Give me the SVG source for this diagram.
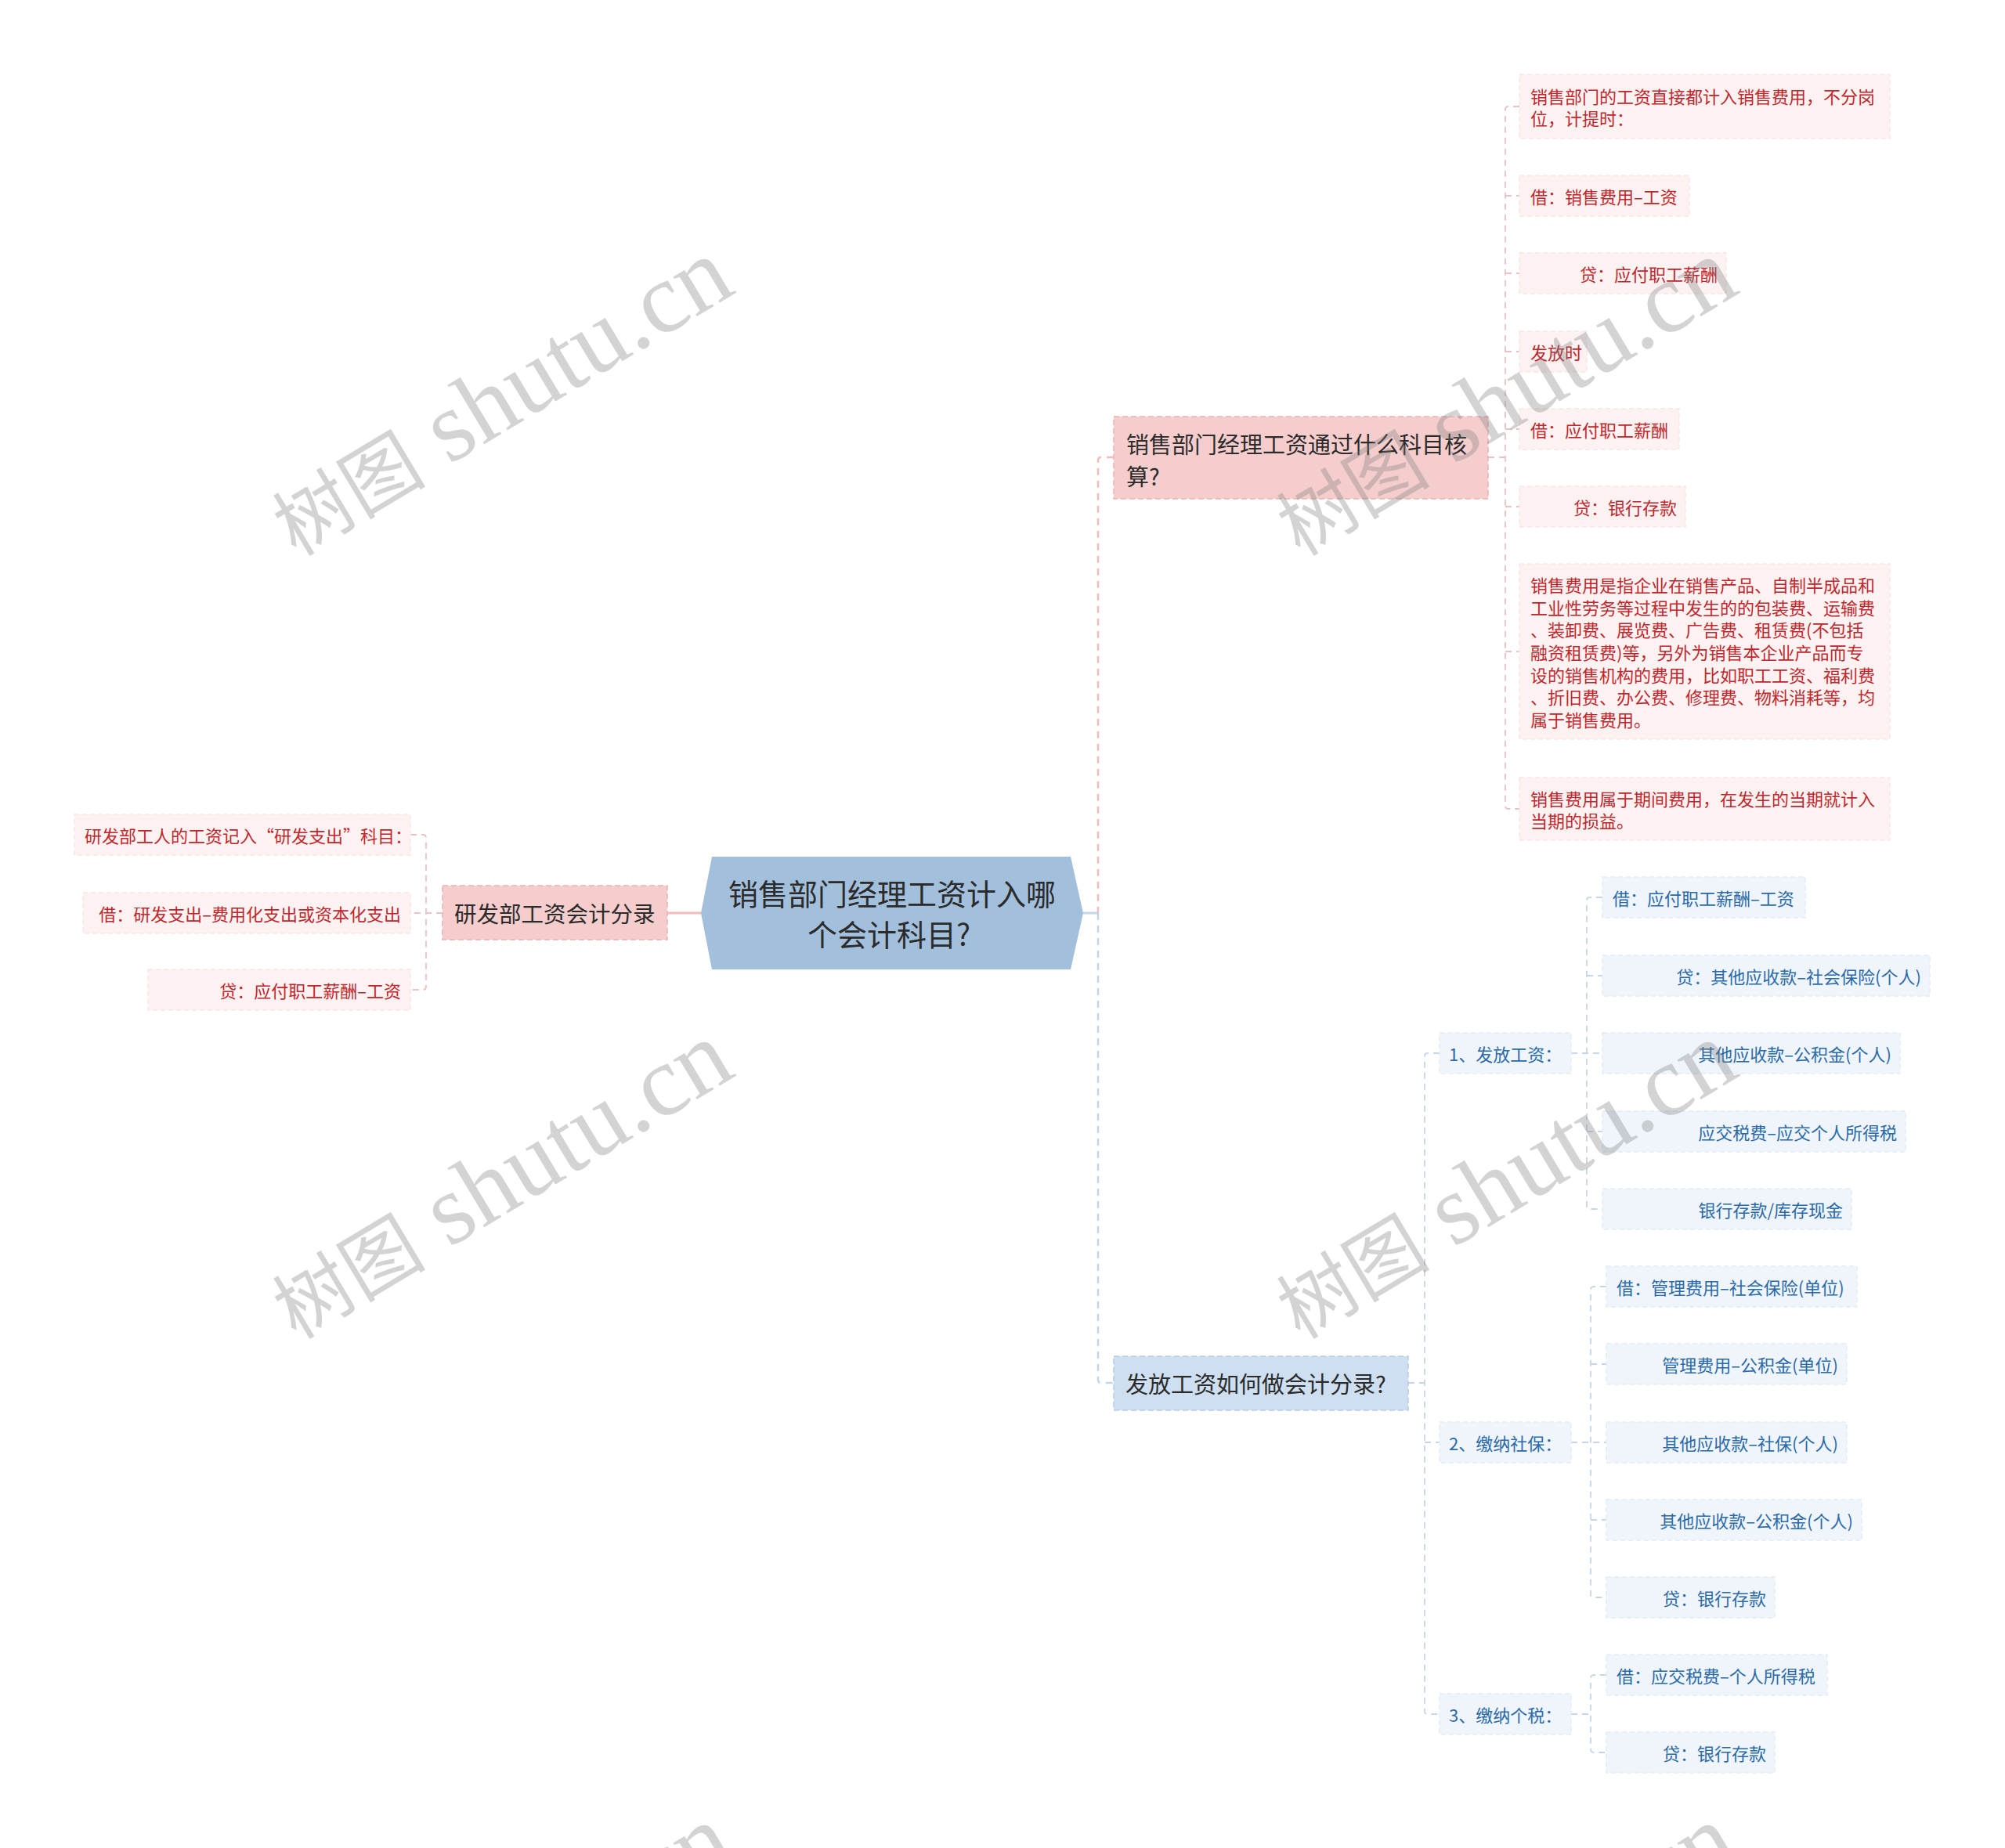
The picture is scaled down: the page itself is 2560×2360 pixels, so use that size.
<svg xmlns="http://www.w3.org/2000/svg" width="2560" height="2360" viewBox="0 0 2560 2360">
<style>
text{font-family:"Noto Sans CJK SC","Noto Sans",sans-serif;dominant-baseline:central}
.rleaf{fill:#fdf2f2;stroke:#f9e6e6;stroke-width:1.5;stroke-dasharray:6 4}
.bleaf{fill:#eff5fb;stroke:#e3ecf6;stroke-width:1.5;stroke-dasharray:6 4}
.rt{fill:#c0272d;font-size:22px}
.bt{fill:#2b6aa8;font-size:22px}
.pinkn{fill:#f5cdcd;stroke:#e9b2b2;stroke-width:1.5;stroke-dasharray:7 4}
.bluen{fill:#cddff0;stroke:#b5cbe2;stroke-width:1.5;stroke-dasharray:7 4}
.l1t{fill:#2b2b2b;font-size:29px}
.rc{fill:none;stroke:#e9c3c3;stroke-width:1.8;stroke-dasharray:8 6}
.bc{fill:none;stroke:#c6d6e6;stroke-width:1.8;stroke-dasharray:8 6}
.trunkr{fill:none;stroke:#f2bcbc;stroke-width:2.5;stroke-dasharray:9 7}
.trunkb{fill:none;stroke:#c3d5e8;stroke-width:2.5;stroke-dasharray:9 7}
.wm{font-family:"Liberation Serif","Noto Sans CJK SC",serif;fill:#7a7a7a;opacity:0.32;dominant-baseline:alphabetic}
.wc{font-size:98px}
.wl{font-size:128px}
</style>

<g id="connectors">
  <line x1="852" y1="1166" x2="895" y2="1166" stroke="#f2bcbc" stroke-width="3"/>
  <line x1="1383" y1="1166" x2="1402" y2="1166" stroke="#c4d5e7" stroke-width="3"/>
  <path class="trunkr" d="M1422,584 H1406 Q1402,584 1402,588 V1166"/>
  <path class="trunkb" d="M1402,1166 V1762 Q1402,1766 1406,1766 H1422"/>
  <path class="rc" d="M565,1166 H524"/>
  <path class="rc" d="M524,1066 H540 Q544,1066 544,1070 V1260 Q544,1264 540,1264 H524"/>
  <path class="rc" d="M1900,584 H1922"/>
  <path class="rc" d="M1940,136 H1926 Q1922,136 1922,140 V1029 Q1922,1033 1926,1033 H1940"/>
  <path class="rc" d="M1922,250 H1940 M1922,349 H1940 M1922,449 H1940 M1922,548 H1940 M1922,647 H1940 M1922,832 H1940"/>
  <path class="bc" d="M1798,1766 H1819"/>
  <path class="bc" d="M1838,1345 H1823 Q1819,1345 1819,1349 V2185 Q1819,2189 1823,2189 H1838"/>
  <path class="bc" d="M1819,1842 H1838"/>
  <path class="bc" d="M2006,1345 H2046"/>
  <path class="bc" d="M2046,1146 H2030 Q2026,1146 2026,1150 V1540 Q2026,1544 2030,1544 H2046"/>
  <path class="bc" d="M2026,1246 H2046 M2026,1445 H2046"/>
  <path class="bc" d="M2006,1842 H2051"/>
  <path class="bc" d="M2051,1643 H2035 Q2031,1643 2031,1647 V2036 Q2031,2040 2035,2040 H2051"/>
  <path class="bc" d="M2031,1742 H2051 M2031,1941 H2051"/>
  <path class="bc" d="M2006,2189 H2031"/>
  <path class="bc" d="M2051,2139 H2035 Q2031,2139 2031,2143 V2234 Q2031,2238 2035,2238 H2051"/>
</g>

<g id="central">
  <polygon points="909,1094 1367,1094 1383,1166 1367,1238 909,1238 895,1166" fill="#a2bfdc"/>
  <text x="1139" y="1139" text-anchor="middle" font-size="38" fill="#2b2b2b">销售部门经理工资计入哪</text>
  <text x="1135" y="1191" text-anchor="middle" font-size="38" fill="#2b2b2b">个会计科目?</text>
</g>

<g id="n-yanfa">
  <rect class="pinkn" x="565" y="1131" width="287" height="69"/>
  <text x="580" y="1165" font-size="28.5" fill="#2b2b2b">研发部工资会计分录</text>
</g>
<g id="l-yanfa-1">
  <rect class="rleaf" x="95" y="1040" width="429" height="52"/>
  <text class="rt" x="108" y="1066">研发部工人的工资记入“研发支出”科目：</text>
</g>
<g id="l-yanfa-2">
  <rect class="rleaf" x="106" y="1140" width="418" height="52"/>
  <text class="rt" x="512" y="1166" text-anchor="end">借：研发支出–费用化支出或资本化支出</text>
</g>
<g id="l-yanfa-3">
  <rect class="rleaf" x="189" y="1238" width="335" height="52"/>
  <text class="rt" x="512" y="1264" text-anchor="end">贷：应付职工薪酬–工资</text>
</g>

<g id="n-xiaoshou">
  <rect class="pinkn" x="1422" y="532" width="478" height="105"/>
  <text class="l1t" x="1438" y="566">销售部门经理工资通过什么科目核</text>
  <text class="l1t" x="1438" y="607">算?</text>
</g>
<g id="r1">
  <rect class="rleaf" x="1940" y="95" width="473" height="82"/>
  <text class="rt" x="1954" y="122">销售部门的工资直接都计入销售费用，不分岗</text>
  <text class="rt" x="1954" y="150">位，计提时：</text>
</g>
<g id="r2">
  <rect class="rleaf" x="1940" y="224" width="217" height="52"/>
  <text class="rt" x="1954" y="250">借：销售费用–工资</text>
</g>
<g id="r3">
  <rect class="rleaf" x="1940" y="323" width="264" height="52"/>
  <text class="rt" x="2193" y="349" text-anchor="end">贷：应付职工薪酬</text>
</g>
<g id="r4">
  <rect class="rleaf" x="1940" y="423" width="86" height="52"/>
  <text class="rt" x="1954" y="449">发放时</text>
</g>
<g id="r5">
  <rect class="rleaf" x="1940" y="522" width="204" height="52"/>
  <text class="rt" x="1954" y="548">借：应付职工薪酬</text>
</g>
<g id="r6">
  <rect class="rleaf" x="1940" y="621" width="212" height="52"/>
  <text class="rt" x="2141" y="647" text-anchor="end">贷：银行存款</text>
</g>
<g id="r7">
  <rect class="rleaf" x="1940" y="720" width="473" height="224"/>
  <text class="rt" x="1954" y="746">销售费用是指企业在销售产品、自制半成品和</text>
  <text class="rt" x="1954" y="774.7">工业性劳务等过程中发生的的包装费、运输费</text>
  <text class="rt" x="1954" y="803.4">、装卸费、展览费、广告费、租赁费(不包括</text>
  <text class="rt" x="1954" y="832">融资租赁费)等，另外为销售本企业产品而专</text>
  <text class="rt" x="1954" y="860.7">设的销售机构的费用，比如职工工资、福利费</text>
  <text class="rt" x="1954" y="889.4">、折旧费、办公费、修理费、物料消耗等，均</text>
  <text class="rt" x="1954" y="918">属于销售费用。</text>
</g>
<g id="r8">
  <rect class="rleaf" x="1940" y="993" width="473" height="80"/>
  <text class="rt" x="1954" y="1019">销售费用属于期间费用，在发生的当期就计入</text>
  <text class="rt" x="1954" y="1047">当期的损益。</text>
</g>

<g id="n-fafang">
  <rect class="bluen" x="1422" y="1732" width="376" height="69"/>
  <text class="l1t" x="1437" y="1766">发放工资如何做会计分录?</text>
</g>
<g id="b-1">
  <rect class="bleaf" x="1838" y="1319" width="168" height="52"/>
  <text class="bt" x="1850" y="1345">1、发放工资：</text>
</g>
<g id="b-2">
  <rect class="bleaf" x="1838" y="1816" width="168" height="52"/>
  <text class="bt" x="1850" y="1842">2、缴纳社保：</text>
</g>
<g id="b-3">
  <rect class="bleaf" x="1838" y="2163" width="168" height="52"/>
  <text class="bt" x="1850" y="2189">3、缴纳个税：</text>
</g>

<g id="b-1a">
  <rect class="bleaf" x="2046" y="1120" width="259" height="52"/>
  <text class="bt" x="2059" y="1146">借：应付职工薪酬–工资</text>
</g>
<g id="b-1b">
  <rect class="bleaf" x="2046" y="1220" width="418" height="52"/>
  <text class="bt" x="2453" y="1246" text-anchor="end">贷：其他应收款–社会保险(个人)</text>
</g>
<g id="b-1c">
  <rect class="bleaf" x="2046" y="1319" width="380" height="52"/>
  <text class="bt" x="2415" y="1345" text-anchor="end">其他应收款–公积金(个人)</text>
</g>
<g id="b-1d">
  <rect class="bleaf" x="2046" y="1419" width="387" height="52"/>
  <text class="bt" x="2422" y="1445" text-anchor="end">应交税费–应交个人所得税</text>
</g>
<g id="b-1e">
  <rect class="bleaf" x="2046" y="1518" width="318" height="52"/>
  <text class="bt" x="2353" y="1544" text-anchor="end">银行存款/库存现金</text>
</g>

<g id="b-2a">
  <rect class="bleaf" x="2051" y="1617" width="320" height="52"/>
  <text class="bt" x="2064" y="1643">借：管理费用–社会保险(单位)</text>
</g>
<g id="b-2b">
  <rect class="bleaf" x="2051" y="1716" width="307" height="52"/>
  <text class="bt" x="2347" y="1742" text-anchor="end">管理费用–公积金(单位)</text>
</g>
<g id="b-2c">
  <rect class="bleaf" x="2051" y="1816" width="307" height="52"/>
  <text class="bt" x="2347" y="1842" text-anchor="end">其他应收款–社保(个人)</text>
</g>
<g id="b-2d">
  <rect class="bleaf" x="2051" y="1915" width="326" height="52"/>
  <text class="bt" x="2366" y="1941" text-anchor="end">其他应收款–公积金(个人)</text>
</g>
<g id="b-2e">
  <rect class="bleaf" x="2051" y="2014" width="215" height="52"/>
  <text class="bt" x="2255" y="2040" text-anchor="end">贷：银行存款</text>
</g>
<g id="b-3a">
  <rect class="bleaf" x="2051" y="2113" width="282" height="52"/>
  <text class="bt" x="2064" y="2139">借：应交税费–个人所得税</text>
</g>
<g id="b-3b">
  <rect class="bleaf" x="2051" y="2212" width="215" height="52"/>
  <text class="bt" x="2255" y="2238" text-anchor="end">贷：银行存款</text>
</g>

<g id="watermarks">
  <text class="wm" text-anchor="middle" transform="translate(660 542) rotate(-31)"><tspan class="wc">树图</tspan><tspan class="wl"> shutu.cn</tspan></text>
  <text class="wm" text-anchor="middle" transform="translate(1942 542) rotate(-31)"><tspan class="wc">树图</tspan><tspan class="wl"> shutu.cn</tspan></text>
  <text class="wm" text-anchor="middle" transform="translate(660 1542) rotate(-31)"><tspan class="wc">树图</tspan><tspan class="wl"> shutu.cn</tspan></text>
  <text class="wm" text-anchor="middle" transform="translate(1942 1542) rotate(-31)"><tspan class="wc">树图</tspan><tspan class="wl"> shutu.cn</tspan></text>
  <text class="wm" text-anchor="middle" transform="translate(660 2542) rotate(-31)"><tspan class="wc">树图</tspan><tspan class="wl"> shutu.cn</tspan></text>
  <text class="wm" text-anchor="middle" transform="translate(1942 2542) rotate(-31)"><tspan class="wc">树图</tspan><tspan class="wl"> shutu.cn</tspan></text>
</g>
</svg>
